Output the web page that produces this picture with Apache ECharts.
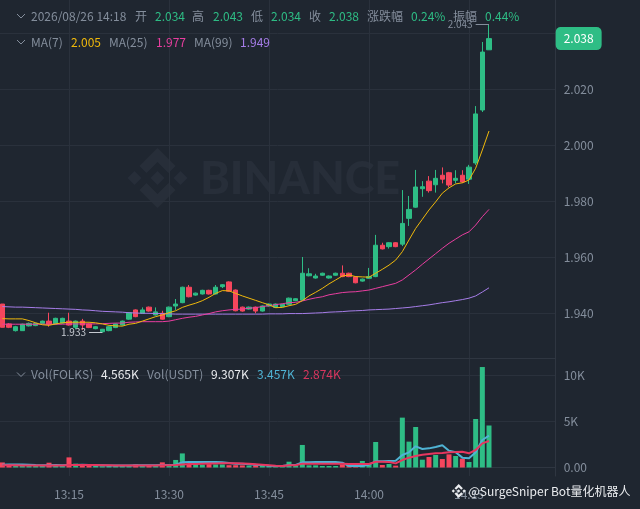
<!DOCTYPE html>
<html><head><meta charset="utf-8">
<style>html,body{margin:0;padding:0;background:#1f2630}#c{width:640px;height:509px}</style>
<script src="https://cdn.jsdelivr.net/npm/echarts@6/dist/echarts.min.js"></script>
</head><body><div id="c"></div>
<script>
const categories = [
'13:04','13:05','13:06','13:07','13:08','13:09','13:10','13:11','13:12','13:13','13:14','13:15','13:16','13:17','13:18','13:19','13:20','13:21','13:22','13:23','13:24','13:25','13:26','13:27','13:28','13:29','13:30','13:31','13:32','13:33','13:34','13:35','13:36','13:37','13:38','13:39','13:40','13:41','13:42','13:43','13:44','13:45','13:46','13:47','13:48','13:49','13:50','13:51','13:52','13:53','13:54','13:55','13:56','13:57','13:58','13:59','14:00','14:01','14:02','14:03','14:04','14:05','14:06','14:07','14:08','14:09','14:10','14:11','14:12','14:13','14:14','14:15','14:16','14:17','14:18','14:19','14:20','14:21','14:22','14:23','14:24','14:25','14:26','14:27','14:28'];
const candleTimes = categories.slice(1, 75);
const opens = [
1.9432,1.9361,1.9337,1.9337,1.9354,1.9355,1.9363,1.9371,1.9361,1.9364,
1.9371,1.9349,1.9371,1.9361,1.9344,1.9333,1.9337,1.9348,1.9357,1.9378,
1.9411,1.9399,1.9421,1.9393,1.9399,1.9387,1.9425,1.9437,1.9492,1.9464,
1.9468,1.9481,1.9468,1.9494,1.9511,1.9482,1.9421,1.9414,1.9421,1.9407,
1.9425,1.9420,1.9423,1.9431,1.9444,1.9446,1.9533,1.9525,1.9535,1.9525,
1.9535,1.9542,1.9542,1.9529,1.9514,1.9524,1.9530,1.9642,1.9637,1.9651,
1.9646,1.9738,1.9778,1.9844,1.9871,1.9858,1.9892,1.9901,1.9874,1.9892,
1.9878,1.9936,2.0125,2.034];
const closes = [
1.9349,1.9349,1.9351,1.9360,1.9363,1.9363,1.9371,1.9360,1.9381,1.9381,
1.9357,1.9371,1.9357,1.9348,1.9351,1.9342,1.9351,1.9361,1.9371,1.9401,
1.9387,1.9411,1.9407,1.9404,1.9378,1.9421,1.9432,1.9492,1.9458,1.9471,
1.9481,1.9468,1.9492,1.9501,1.9478,1.9408,1.9407,1.9421,1.9407,1.9425,
1.9432,1.9432,1.9431,1.9453,1.9451,1.9542,1.9540,1.9532,1.9542,1.9532,
1.9542,1.9530,1.9530,1.9508,1.9521,1.9530,1.9642,1.9629,1.9651,1.9637,
1.9720,1.9770,1.9850,1.9851,1.9837,1.9881,1.9878,1.9857,1.9881,1.9868,
1.9921,2.0111,2.0332,2.038];
const lows = [
1.9349,1.9346,1.9334,1.9336,1.9352,1.9353,1.9361,1.9351,1.9359,1.9362,
1.9355,1.9342,1.9339,1.9346,1.9342,1.9330,1.9335,1.9346,1.9355,1.9376,
1.9385,1.9398,1.9405,1.9391,1.9376,1.9385,1.9411,1.9435,1.9456,1.9462,
1.9466,1.9466,1.9466,1.9489,1.9476,1.9406,1.9405,1.9412,1.9399,1.9405,
1.9423,1.9418,1.9421,1.9429,1.9442,1.9444,1.9531,1.9523,1.9533,1.9523,
1.9533,1.9528,1.9528,1.9506,1.9512,1.9522,1.9528,1.9627,1.9630,1.9635,
1.9639,1.9711,1.9776,1.9815,1.9830,1.9830,1.9863,1.9849,1.9863,1.9864,
1.9861,1.9929,2.0118,2.034];
const highs = [
1.9432,1.9364,1.9354,1.9362,1.9366,1.9365,1.9373,1.9401,1.9383,1.9383,
1.9401,1.9373,1.9379,1.9363,1.9353,1.9343,1.9353,1.9363,1.9373,1.9403,
1.9413,1.9420,1.9423,1.9420,1.9408,1.9423,1.9450,1.9494,1.9500,1.9473,
1.9483,1.9483,1.9500,1.9503,1.9513,1.9484,1.9423,1.9423,1.9423,1.9427,
1.9434,1.9434,1.9433,1.9455,1.9453,1.9600,1.9560,1.9540,1.9544,1.9534,
1.9544,1.9570,1.9544,1.9531,1.9523,1.9561,1.9679,1.9651,1.9653,1.9653,
1.9839,1.9818,1.9911,1.9871,1.9889,1.9911,1.9920,1.9904,1.9910,1.9910,
1.9929,2.0139,2.0368,2.043];
const ma7 = [
1.9380,1.9379,1.9379,1.9379,1.9373,1.9365,1.9358,1.9356,1.9361,1.9365,
1.9367,1.9367,1.9367,1.9367,1.9365,1.9361,1.9356,1.9354,1.9353,1.9360,
1.9363,1.9371,1.9379,1.9387,1.9393,1.9401,1.9408,1.9420,1.9428,1.9435,
1.9444,1.9456,1.9470,1.9480,1.9479,1.9470,1.9461,1.9453,1.9445,1.9437,
1.9429,1.9419,1.9420,1.9426,1.9431,1.9444,1.9461,1.9474,1.9488,1.9504,
1.9518,1.9532,1.9536,1.9530,1.9529,1.9528,1.9542,1.9556,1.9571,1.9589,
1.9619,1.9661,1.9702,1.9735,1.9768,1.9797,1.9828,1.9847,1.9861,1.9865,
1.9875,1.9917,1.9982,2.005];
const ma25 = [
1.9360,1.9360,1.9360,1.9360,1.9360,1.9360,1.9360,1.9360,1.9360,1.9360,
1.9361,1.9361,1.9361,1.9361,1.9361,1.9362,1.9363,1.9364,1.9364,1.9367,
1.9368,1.9369,1.9369,1.9369,1.9369,1.9371,1.9376,1.9381,1.9385,1.9388,
1.9393,1.9398,1.9404,1.9408,1.9411,1.9413,1.9414,1.9417,1.9419,1.9423,
1.9426,1.9430,1.9433,1.9437,1.9438,1.9443,1.9449,1.9454,1.9458,1.9465,
1.9469,1.9473,1.9475,1.9476,1.9479,1.9482,1.9488,1.9494,1.9500,1.9506,
1.9518,1.9536,1.9554,1.9574,1.9593,1.9612,1.9631,1.9649,1.9664,1.9679,
1.9690,1.9714,1.9744,1.977];
const ma99 = [
1.9423,1.9422,1.9421,1.9421,1.9420,1.9419,1.9418,1.9417,1.9416,1.9415,
1.9414,1.9413,1.9411,1.9410,1.9408,1.9406,1.9405,1.9404,1.9403,1.9401,
1.9400,1.9399,1.9399,1.9398,1.9398,1.9397,1.9396,1.9396,1.9396,1.9396,
1.9396,1.9396,1.9396,1.9396,1.9396,1.9396,1.9396,1.9396,1.9396,1.9396,
1.9397,1.9397,1.9397,1.9398,1.9398,1.9398,1.9399,1.9400,1.9401,1.9403,
1.9404,1.9405,1.9407,1.9408,1.9409,1.9411,1.9412,1.9413,1.9414,1.9416,
1.9418,1.9420,1.9423,1.9426,1.9429,1.9433,1.9437,1.9440,1.9444,1.9448,
1.9453,1.9461,1.9475,1.949];
const volumes = [
550,260,200,270,190,170,220,520,190,170,
1100,420,300,210,170,140,200,250,190,260,
330,210,260,230,560,300,820,1530,360,360,
290,360,330,330,250,250,230,210,240,270,
180,190,200,630,160,2450,235,235,160,160,
160,340,160,160,710,310,2770,270,380,200,
5420,2810,4400,850,1140,1360,920,1430,1250,960,
600,5270,10920,4565];
const volMaFast = [
300,320,330,320,300,260,240,250,260,240,
270,270,290,270,250,240,230,220,220,230,
240,240,240,240,260,260,300,560,600,600,
600,600,600,570,500,420,400,350,300,260,
200,170,160,270,270,560,560,600,600,600,
600,520,160,160,160,310,670,670,710,740,
1360,1650,2300,2010,2080,2230,2410,1830,1650,1070,
1000,1650,2990,3457];
const volMaSlow = [
250,250,240,230,220,210,210,220,220,220,
260,270,280,270,260,250,240,230,220,220,
220,220,230,230,240,240,270,330,370,390,
410,430,440,450,460,450,440,400,350,300,
250,200,160,235,235,420,420,420,420,420,
420,400,380,380,380,380,630,630,600,450,
810,1070,1250,1390,1470,1540,1570,1650,1680,1720,
1540,1900,2620,2874];
const priceTicks = [1.94,1.96,1.98,2.0,2.02,2.04];
const volumeTicks = [0,5000,10000];
const volumeTickLabels = ['0.00','5K','10K'];
const lastClose = 2.038, highMark = 2.043, lowMark = 1.933;

const UP='#2ebd85', DOWN='#f6465d', GREY='#848e9c', GRID='#2a313c', AXIS='#2f3641';
const FONT='"Noto Sans CJK SC","Noto Sans",sans-serif';
const isQuarter=(i,v)=>/:(00|15|30|45)$/.test(v);

const blankCandle=['-','-','-','-'];
const candles=[blankCandle,...candleTimes.map((t,i)=>[opens[i],closes[i],lows[i],highs[i]])];
const pair=a=>candleTimes.map((t,i)=>[t,a[i]]);
const volData=candleTimes.map((t,i)=>({value:[t,volumes[i]],itemStyle:{color:closes[i]>=opens[i]?UP:DOWN}}));

const txt=(text,x,y,fill)=>({type:'text',z:100,x,y,silent:true,style:{text,fill,font:'12px '+FONT,verticalAlign:'middle',textVerticalAlign:'middle'}});
const chev=(x,y)=>({type:'polyline',z:100,silent:true,shape:{points:[[x,y],[x+4,y+4],[x+8,y]]},style:{stroke:GREY,lineWidth:1,fill:null}});
const logo=(cx,cy,r,fill,z)=>{
  const u=r/30, pt=a=>a.map(p=>[cx+p[0]*u,cy+p[1]*u]);
  const shapes=[
    [[0,-7],[7,0],[0,7],[-7,0]],
    [[-23,-7],[-16,0],[-23,7],[-30,0]],
    [[23,-7],[30,0],[23,7],[16,0]],
    [[0,-30],[18,-12],[11,-5],[0,-16],[-11,-5],[-18,-12]],
    [[0,30],[18,12],[11,5],[0,16],[-11,5],[-18,12]]];
  return shapes.map(s=>({type:'polygon',z,silent:true,shape:{points:pt(s)},style:{fill}}));
};
const G='#2ebd85';
const graphics=[
  ...logo(157.5,178,30,'#272e39',0),
  {type:'text',z:0,x:200,y:179,silent:true,style:{text:'BINANCE',fill:'#272e39',font:'900 45px Lato,"Open Sans",sans-serif',verticalAlign:'middle',textVerticalAlign:'middle'}},
  chev(17,14),chev(17,40),chev(17,372.5),
  txt('2026/08/26 14:18',31,16,GREY),txt('开',135,16,GREY),txt('2.034',155,16,G),txt('高',192,16,GREY),txt('2.043',213,16,G),
  txt('低',251,16,GREY),txt('2.034',271,16,G),txt('收',309,16,GREY),txt('2.038',329,16,G),txt('涨跌幅',367,16,GREY),
  txt('0.24%',411,16,G),txt('振幅',453,16,GREY),txt('0.44%',485,16,G),
  txt('MA(7)',31,42,GREY),txt('2.005',71,42,'#f0b90b'),txt('MA(25)',109,42,GREY),txt('1.977',156,42,'#e93ea0'),txt('MA(99)',194,42,GREY),txt('1.949',240,42,'#a67de8'),
  txt('Vol(FOLKS)',31,374,GREY),txt('4.565K',101,374,'#eaecef'),txt('Vol(USDT)',147,374,GREY),txt('9.307K',211,374,'#eaecef'),txt('3.457K',257,374,'#4fb3d4'),txt('2.874K',303,374,'#d9365e'),
  ...logo(458.7,491,7,'#eaecef',100),
  txt('@SurgeSniper Bot量化机器人',468.5,491,'#eaecef')
];

const chart=echarts.init(document.getElementById('c'),null,{renderer:'canvas'});
chart.setOption({
  animation:false,
  backgroundColor:'#1f2630',
  textStyle:{fontFamily:FONT},
  grid:[{left:-4.33,top:0,width:560,height:358,outerBoundsMode:'none'},{left:-4.33,top:358,width:560,height:118,outerBoundsMode:'none'}],
  xAxis:[
    {type:'category',gridIndex:0,data:categories,boundaryGap:false,
     axisLine:{show:true,lineStyle:{color:AXIS}},axisTick:{show:false},axisLabel:{show:false},
     splitLine:{show:true,interval:isQuarter,lineStyle:{color:GRID}}},
    {type:'category',gridIndex:1,data:categories,boundaryGap:false,
     axisLine:{show:true,lineStyle:{color:AXIS}},axisTick:{show:false},
     axisLabel:{interval:isQuarter,color:GREY,fontSize:12,margin:12,fontFamily:FONT},
     splitLine:{show:true,interval:isQuarter,lineStyle:{color:GRID}}}
  ],
  yAxis:[
    {type:'value',gridIndex:0,position:'right',min:1.92393,max:2.05179,scale:true,
     axisLine:{show:true,lineStyle:{color:AXIS}},
     axisTick:{show:false,customValues:priceTicks},
     axisLabel:{customValues:priceTicks,color:GREY,fontSize:12,margin:8,fontFamily:FONT,formatter:v=>v.toFixed(3)},
     splitLine:{show:true,lineStyle:{color:GRID}}},
    {type:'value',gridIndex:1,position:'right',min:-924,max:11902,
     axisLine:{show:true,lineStyle:{color:AXIS}},
     axisTick:{show:false,customValues:volumeTicks},
     axisLabel:{customValues:volumeTicks,color:GREY,fontSize:12,margin:8,fontFamily:FONT,
       formatter:v=>volumeTickLabels[volumeTicks.indexOf(v)]},
     splitLine:{show:true,lineStyle:{color:GRID}}}
  ],
  series:[
    {type:'candlestick',xAxisIndex:0,yAxisIndex:0,data:candles,barWidth:5,z:3,
     itemStyle:{color:UP,color0:DOWN,borderColor:UP,borderColor0:DOWN,borderWidth:1},
     markLine:{silent:true,symbol:'none',animation:false,precision:4,z:20,
       data:[
        {yAxis:lastClose,lineStyle:{color:'transparent',width:0},
         label:{show:true,position:'end',distance:0,formatter:lastClose.toFixed(3),color:'#fff',fontSize:12,fontFamily:FONT,
                backgroundColor:'#2ebd85',borderRadius:5,padding:[6,8,5,8]}},
        [{coord:['14:18',highMark],lineStyle:{color:GREY,width:1,type:'solid'},
          label:{show:true,position:'end',distance:3,formatter:highMark.toFixed(3),color:GREY,fontSize:10,fontFamily:FONT}},
         {coord:['14:16',highMark]}],
        [{coord:['13:20',lowMark],lineStyle:{color:'#c5c9d0',width:1,type:'solid'},
          label:{show:true,position:'end',distance:3,formatter:lowMark.toFixed(3),color:'#c5c9d0',fontSize:10,fontFamily:FONT}},
         {coord:['13:18',lowMark]}]
       ]}},
    {type:'line',xAxisIndex:0,yAxisIndex:0,data:pair(ma99),showSymbol:false,z:4,lineStyle:{color:'#a67de8',width:1},itemStyle:{color:'#a67de8'}},
    {type:'line',xAxisIndex:0,yAxisIndex:0,data:pair(ma25),showSymbol:false,z:5,lineStyle:{color:'#e93ea0',width:1},itemStyle:{color:'#e93ea0'}},
    {type:'line',xAxisIndex:0,yAxisIndex:0,data:pair(ma7),showSymbol:false,z:6,lineStyle:{color:'#f0b90b',width:1},itemStyle:{color:'#f0b90b'}},
    {type:'bar',xAxisIndex:1,yAxisIndex:1,data:volData,barWidth:5,z:3},
    {type:'line',xAxisIndex:1,yAxisIndex:1,data:pair(volMaFast),showSymbol:false,z:4,lineStyle:{color:'#4fb3d4',width:2},itemStyle:{color:'#4fb3d4'}},
    {type:'line',xAxisIndex:1,yAxisIndex:1,data:pair(volMaSlow),showSymbol:false,z:5,lineStyle:{color:'#e8365f',width:2},itemStyle:{color:'#e8365f'}}
  ],
  graphic:{elements:graphics}
});
</script></body></html>
